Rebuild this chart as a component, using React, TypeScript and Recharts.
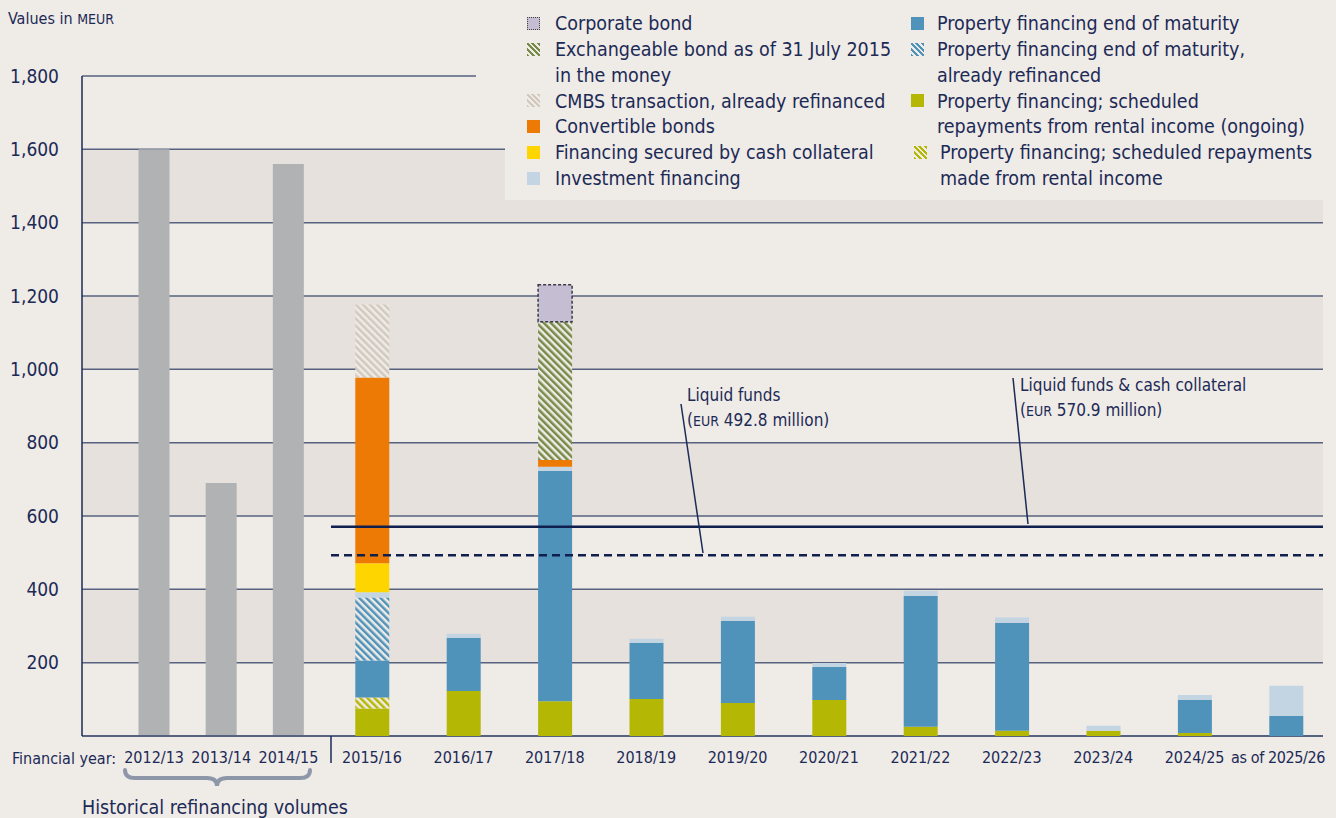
import { BarChart, Bar, XAxis, YAxis, CartesianGrid, ReferenceLine } from 'recharts'

const FONT = "'DejaVu Sans Condensed', 'DejaVu Sans', sans-serif"
const NAVY = '#1C2A56'
const BG = '#EFEBE7'

// historical refinancing volumes
const HIST_YEARS = ['2012/13', '2013/14', '2014/15']
const HIST_VOLUMES = [1600, 690, 1560]

// maturity profile, financial years
const YEARS = [
  '2015/16', '2016/17', '2017/18', '2018/19', '2019/20', '2020/21',
  '2021/22', '2022/23', '2023/24', '2024/25', 'as of 2025/26',
]
const SCHEDULED = [75, 123, 95, 101, 90, 98, 25, 14, 14, 8, 0]
const SCHEDULED_DONE = [30, 0, 0, 0, 0, 0, 0, 0, 0, 0, 0]
const END_OF_MATURITY = [101, 145, 628, 153, 224, 90, 357, 295, 0, 90, 55]
const END_REFINANCED = [172, 0, 0, 0, 0, 0, 0, 0, 0, 0, 0]
const INVESTMENT = [14, 11, 11, 11, 11, 11, 14, 14, 14, 14, 82]
const CASH_COLLATERAL = [79, 0, 0, 0, 0, 0, 0, 0, 0, 0, 0]
const CONVERTIBLE = [507, 0, 19, 0, 0, 0, 0, 0, 0, 0, 0]
const CMBS = [199, 0, 0, 0, 0, 0, 0, 0, 0, 0, 0]
const EXCHANGEABLE = [0, 0, 377, 0, 0, 0, 0, 0, 0, 0, 0]
const CORPORATE = [0, 0, 101, 0, 0, 0, 0, 0, 0, 0, 0]

const Y_TICKS = [0, 200, 400, 600, 800, 1000, 1200, 1400, 1600, 1800]
const LIQUID_FUNDS = 492.8
const LIQUID_WITH_COLLATERAL = 570.9

const histData = HIST_YEARS.map((year, i) => ({ year, volume: HIST_VOLUMES[i] }))

const forecastData = YEARS.map((year, i) => ({
  year,
  scheduled: SCHEDULED[i],
  scheduledDone: SCHEDULED_DONE[i],
  endOfMaturity: END_OF_MATURITY[i],
  endRefinanced: END_REFINANCED[i],
  investment: INVESTMENT[i],
  cashCollateral: CASH_COLLATERAL[i],
  convertible: CONVERTIBLE[i],
  cmbs: CMBS[i],
  exchangeable: EXCHANGEABLE[i],
  corporate: CORPORATE[i],
}))

const SERIES = [
  { key: 'scheduled', fill: '#B5B705' },
  { key: 'scheduledDone', fill: 'url(#hatchOlive)' },
  { key: 'endOfMaturity', fill: '#5093BA' },
  { key: 'endRefinanced', fill: 'url(#hatchBlue)' },
  { key: 'investment', fill: '#C3D4E3' },
  { key: 'cashCollateral', fill: '#FFD500' },
  { key: 'convertible', fill: '#EE7A06' },
  { key: 'cmbs', fill: 'url(#hatchCmbs)' },
  { key: 'exchangeable', fill: 'url(#hatchGreen)' },
  { key: 'corporate', fill: '#C5BED3' },
]

const hatchCss = (c: string) =>
  `repeating-linear-gradient(45deg, ${c} 0 2px, ${BG} 2px 4px)`

type LegendItem = { lines: string[]; swatch: Record<string, string>; dx?: number }

const LEGEND_LEFT: LegendItem[] = [
  { lines: ['Corporate bond'], swatch: { background: '#C5BED3', border: '1.5px dotted #444' } },
  { lines: ['Exchangeable bond as of 31 July 2015', 'in the money'], swatch: { background: hatchCss('#778A48') } },
  { lines: ['CMBS transaction, already refinanced'], swatch: { background: hatchCss('#D2C8BE') } },
  { lines: ['Convertible bonds'], swatch: { background: '#EE7A06' } },
  { lines: ['Financing secured by cash collateral'], swatch: { background: '#FFD500' } },
  { lines: ['Investment financing'], swatch: { background: '#C3D4E3' } },
]
const LEGEND_RIGHT: LegendItem[] = [
  { lines: ['Property financing end of maturity'], swatch: { background: '#5093BA' } },
  { lines: ['Property financing end of maturity,', 'already refinanced'], swatch: { background: hatchCss('#5093BA') } },
  { lines: ['Property financing; scheduled', 'repayments from rental income (ongoing)'], swatch: { background: '#B5B705' } },
  { lines: ['Property financing; scheduled repayments', 'made from rental income'], swatch: { background: hatchCss('#B5B705') }, dx: 3 },
]

const LINE_H = 25.8

function LegendColumn({ items, x, textX }: { items: LegendItem[]; x: number; textX: number }) {
  let row = 0
  return (
    <>
      {items.map((it, i) => {
        const top = 24 + row * LINE_H
        row += it.lines.length
        const dx = it.dx || 0
        return (
          <div key={i}>
            <div
              style={{
                position: 'absolute', left: x + dx, top: top - 7, width: 13, height: 13,
                boxSizing: 'border-box', ...it.swatch,
              }}
            />
            {it.lines.map((l, j) => (
              <div
                key={j}
                style={{
                  position: 'absolute', left: textX + dx, top: top + j * LINE_H - LINE_H / 2,
                  lineHeight: `${LINE_H}px`, fontSize: 19.5, color: NAVY, whiteSpace: 'nowrap',
                }}
              >
                {l}
              </div>
            ))}
          </div>
        )
      })}
    </>
  )
}

function hatch(id: string, color: string) {
  return (
    <pattern id={id} patternUnits="userSpaceOnUse" width="5" height="5" patternTransform="rotate(-45)">
      <rect width="5" height="5" fill={BG} />
      <rect width="2.5" height="5" fill={color} />
    </pattern>
  )
}

// last label sits a little left of its bar, as in the source
function YearTick(props: any) {
  const { x, y, payload } = props
  const last = String(payload.value).startsWith('as of')
  return (
    <text
      x={x + (last ? -8 : 0)}
      y={y}
      dy="0.71em"
      textAnchor="middle"
      fontSize={16}
      letterSpacing={last ? -0.4 : 0}
      fill={NAVY}
      fontFamily={FONT}
    >
      {payload.value}
    </text>
  )
}

export default function App() {
  const W = 1336
  const H = 818
  const margin = { top: 76, right: 13, bottom: 42 }

  return (
    <div
      style={{
        position: 'fixed', left: 0, top: 0, width: W, height: H,
        background: BG, fontFamily: FONT, overflow: 'hidden',
      }}
    >
      {/* grid + historical bars */}
      <div style={{ position: 'absolute', left: 0, top: 0 }}>
        <BarChart width={W} height={H} data={histData} margin={{ ...margin, left: 0 }}>
          <CartesianGrid
            vertical={false}
            stroke="#56627F"
            strokeWidth={1.5}
            horizontalFill={['transparent', '#E6E1DC']}
            fillOpacity={1}
          />
          <XAxis
            dataKey="year"
            interval={0}
            height={40}
            padding={{ left: 38.5, right: 1001 }}
            tickLine={false}
            tickSize={0}
            tickMargin={16}
            tick={{ fontSize: 16, fill: NAVY, fontFamily: FONT }}
            axisLine={{ stroke: '#56627F', strokeWidth: 2 }}
          />
          <YAxis
            width={82}
            domain={[0, 1800]}
            ticks={Y_TICKS}
            interval={0}
            tickLine={false}
            tickSize={0}
            tickMargin={23}
            tickFormatter={(v: number) => (v === 0 ? '' : v.toLocaleString('en-US'))}
            tick={{ fontSize: 19, fill: NAVY, fontFamily: FONT }}
            axisLine={{ stroke: NAVY, strokeWidth: 1.5 }}
          />
          <Bar dataKey="volume" fill="#B1B2B4" barSize={31} isAnimationActive={false} />
        </BarChart>
      </div>

      {/* maturity profile */}
      <div style={{ position: 'absolute', left: 0, top: 0 }}>
        <BarChart width={W} height={H} data={forecastData} margin={{ ...margin, left: 331 }}>
          <defs>
            {hatch('hatchOlive', '#B5B705')}
            {hatch('hatchBlue', '#5093BA')}
            {hatch('hatchCmbs', '#D2C8BE')}
            {hatch('hatchGreen', '#778A48')}
          </defs>
          <XAxis
            dataKey="year"
            interval={0}
            height={40}
            padding={{ left: -4.7, right: -8.7 }}
            tickLine={false}
            tickSize={0}
            tickMargin={16}
            tick={<YearTick />}
            axisLine={false}
          />
          <YAxis
            width={0}
            domain={[0, 1800]}
            ticks={Y_TICKS}
            tick={false}
            tickLine={false}
            axisLine={{ stroke: NAVY, strokeWidth: 1.5 }}
          />
          {SERIES.map((s) => (
            <Bar
              key={s.key}
              dataKey={s.key}
              stackId="a"
              fill={s.fill}
              barSize={34}
              isAnimationActive={false}
              {...(s.key === 'corporate'
                ? { stroke: '#3A3A46', strokeWidth: 1.5, strokeDasharray: '3 2' }
                : {})}
            />
          ))}
          <ReferenceLine y={LIQUID_WITH_COLLATERAL} stroke="#0F1F4E" strokeWidth={2.5} />
          <ReferenceLine y={LIQUID_FUNDS} stroke="#0F1F4E" strokeWidth={2.5} strokeDasharray="8 5" />
        </BarChart>
      </div>

      {/* legend */}
      <div style={{ position: 'absolute', left: 505, top: 0, width: 831, height: 200, background: BG }} />
      <div style={{ position: 'absolute', left: 476, top: 66, width: 30, height: 20, background: BG }} />
      <LegendColumn items={LEGEND_LEFT} x={527} textX={555} />
      <LegendColumn items={LEGEND_RIGHT} x={911} textX={937} />

      {/* annotations */}
      <svg width={W} height={H} style={{ position: 'absolute', left: 0, top: 0 }}>
        <text x={8} y={24} fontSize={16} fill={NAVY} fontFamily={FONT}>
          Values in <tspan fontSize={14}>MEUR</tspan>
        </text>
        <line x1={331} y1={736} x2={331} y2={763} stroke={NAVY} strokeWidth={1.5} />
        <text x={12} y={764} fontSize={16} fill={NAVY} fontFamily={FONT}>Financial year:</text>
        <path
          d="M125,770 Q125,778 135,778 L207,778 Q217,778 217,786 Q217,778 227,778 L300,778 Q310,778 310,770"
          fill="none" stroke="#8E97AA" strokeWidth={4} strokeLinecap="round"
        />
        <text x={82} y={814} fontSize={19.5} fill={NAVY} fontFamily={FONT}>Historical refinancing volumes</text>

        <line x1={681} y1={404} x2={703} y2={553} stroke={NAVY} strokeWidth={1.5} />
        <text x={687} y={401} fontSize={17} fill={NAVY} fontFamily={FONT}>Liquid funds</text>
        <text x={687} y={426} fontSize={17} fill={NAVY} fontFamily={FONT}>
          (<tspan fontSize={14}>EUR</tspan> 492.8 million)
        </text>

        <line x1={1013} y1={378} x2={1028} y2={524} stroke={NAVY} strokeWidth={1.5} />
        <text x={1020} y={391} fontSize={17} fill={NAVY} fontFamily={FONT}>Liquid funds &amp; cash collateral</text>
        <text x={1020} y={416} fontSize={17} fill={NAVY} fontFamily={FONT}>
          (<tspan fontSize={14}>EUR</tspan> 570.9 million)
        </text>
      </svg>
    </div>
  )
}
